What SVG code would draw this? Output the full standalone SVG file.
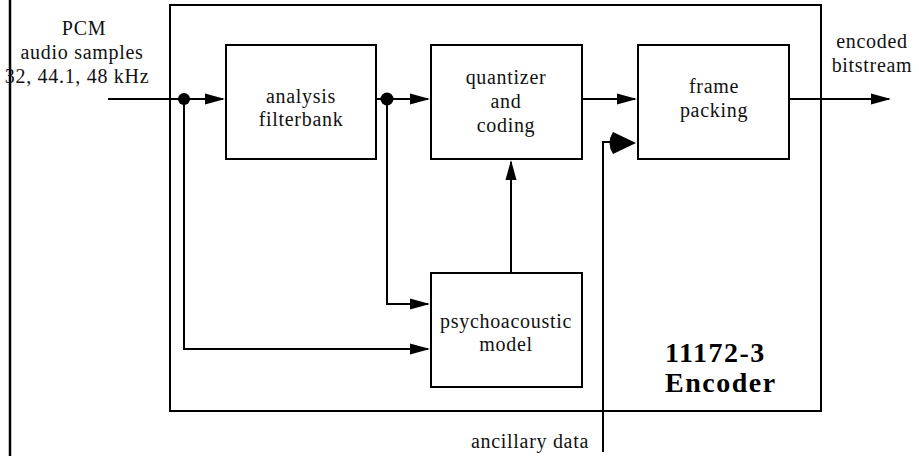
<svg xmlns="http://www.w3.org/2000/svg" width="919" height="456" viewBox="0 0 919 456">
  <style>
    .box { fill: #fff; stroke: #000; stroke-width: 2; }
    .frame { fill: none; stroke: #000; stroke-width: 2; }
    .wire { fill: none; stroke: #000; stroke-width: 2; }
    .lbl { font-size: 20px; letter-spacing: 0.7px; fill: #111; text-anchor: middle; }
    .big { font-size: 28px; font-weight: bold; letter-spacing: 1.5px; fill: #000; }
  </style>
  <defs>
    <marker id="arrow" markerUnits="userSpaceOnUse" markerWidth="20" markerHeight="12" refX="18" refY="6" orient="auto">
      <path d="M0,0.5 L20,6 L0,11.5 Z" fill="#000"/>
    </marker>
  </defs>
  <rect width="919" height="456" fill="#fff"/>

  <!-- left edge rule -->
  <line x1="10" y1="0" x2="10" y2="456" stroke="#000" stroke-width="2.5"/>

  <g font-family="Liberation Serif, Times New Roman, serif">
  <!-- encoder enclosure -->
  <g id="encoder">
    <rect class="frame" x="170" y="5" width="651" height="406"/>
    <text class="big" x="665" y="362">11172-3</text>
    <text class="big" x="665" y="392">Encoder</text>
  </g>

  <g id="input-label">
    <text class="lbl" x="84" y="35">PCM</text>
    <text class="lbl" x="82" y="59">audio samples</text>
    <text class="lbl" x="77" y="83">32, 44.1, 48 kHz</text>
  </g>

  <g id="analysis">
    <rect class="box" x="226" y="45" width="150" height="114"/>
    <text class="lbl" x="301" y="103">analysis</text>
    <text class="lbl" x="301" y="126">filterbank</text>
  </g>

  <g id="quantizer">
    <rect class="box" x="431" y="45" width="151" height="114"/>
    <text class="lbl" x="506" y="84">quantizer</text>
    <text class="lbl" x="506" y="108">and</text>
    <text class="lbl" x="506" y="132">coding</text>
  </g>

  <g id="frame-packing">
    <rect class="box" x="638" y="45" width="151" height="114"/>
    <text class="lbl" x="714" y="93">frame</text>
    <text class="lbl" x="714" y="117">packing</text>
  </g>

  <g id="psychoacoustic">
    <rect class="box" x="431" y="273" width="151" height="114"/>
    <text class="lbl" x="506" y="328">psychoacoustic</text>
    <text class="lbl" x="506" y="351">model</text>
  </g>

  <g id="output-label">
    <text class="lbl" x="872" y="48">encoded</text>
    <text class="lbl" x="872" y="72">bitstream</text>
  </g>

  <g id="ancillary-label">
    <text class="lbl" x="530" y="448">ancillary data</text>
  </g>
  </g>

  <g id="connectors">
    <!-- PCM input to filterbank -->
    <line class="wire" x1="108" y1="99" x2="223" y2="99" marker-end="url(#arrow)"/>
    <circle cx="184" cy="99" r="6" fill="#000"/>
    <!-- filterbank to quantizer -->
    <line class="wire" x1="376" y1="99" x2="428" y2="99" marker-end="url(#arrow)"/>
    <circle cx="387" cy="99" r="6.5" fill="#000"/>
    <!-- quantizer to frame packing -->
    <line class="wire" x1="582" y1="99" x2="635" y2="99" marker-end="url(#arrow)"/>
    <!-- frame packing to output -->
    <line class="wire" x1="789" y1="99" x2="889" y2="99" marker-end="url(#arrow)"/>
    <!-- subband samples to psychoacoustic model -->
    <polyline class="wire" points="387,99 387,304 428,304" marker-end="url(#arrow)"/>
    <!-- PCM samples to psychoacoustic model -->
    <polyline class="wire" points="184,99 184,349 428,349" marker-end="url(#arrow)"/>
    <!-- psychoacoustic model to quantizer -->
    <line class="wire" x1="511" y1="273" x2="511" y2="162" marker-end="url(#arrow)"/>
    <!-- ancillary data into frame packing -->
    <polyline class="wire" points="603,452 603,142 612,142"/>
    <path d="M636,143 L613,132 Q606,143 613,154 Z" fill="#000"/>
  </g>
</svg>
